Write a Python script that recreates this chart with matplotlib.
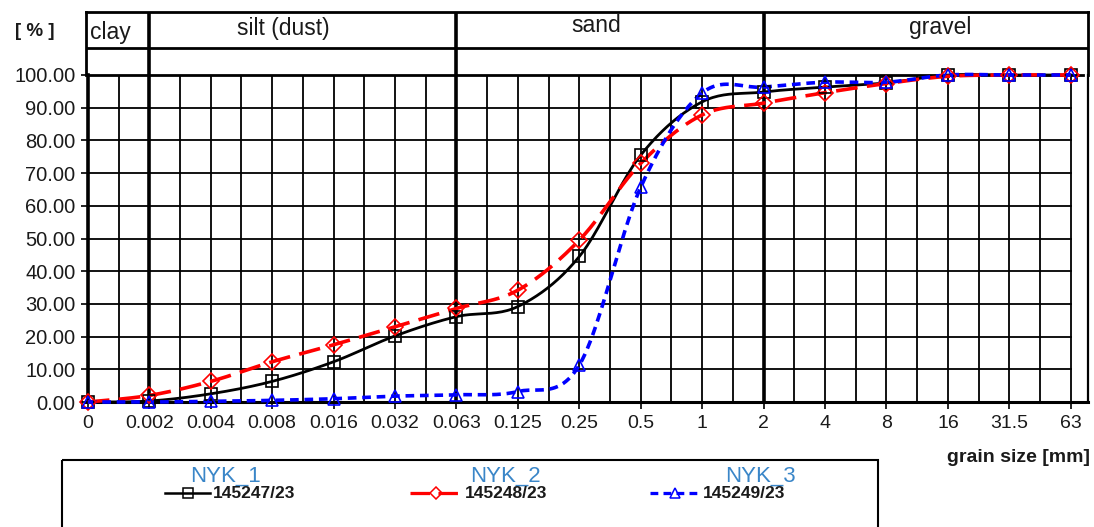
import numpy as np
import matplotlib
matplotlib.use("Agg")
import matplotlib.pyplot as plt
from matplotlib.lines import Line2D
from matplotlib.patches import Rectangle

plt.rcParams['font.family'] = ['Liberation Sans', 'DejaVu Sans']

# grain size classes (categorical x axis)
sizes = ["0", "0.002", "0.004", "0.008", "0.016", "0.032", "0.063", "0.125",
         "0.25", "0.5", "1", "2", "4", "8", "16", "31.5", "63"]

# passing [%] per sample
nyk_1 = [0.0, 0.3, 2.5, 6.3, 12.3, 20.2, 26.1, 29.2, 44.5, 75.5, 91.8, 94.8, 96.3, 97.6, 100.0, 100.0, 100.0]
nyk_2 = [0.0, 2.0, 6.3, 12.3, 17.5, 23.0, 28.6, 34.2, 49.5, 73.0, 87.8, 91.4, 94.6, 97.4, 99.6, 100.0, 100.0]
nyk_3 = [0.0, 0.0, 0.2, 0.5, 1.0, 1.8, 2.2, 3.2, 11.3, 65.7, 94.5, 96.3, 97.8, 97.8, 100.0, 100.0, 100.0]

sample_names = ["NYK_1", "NYK_2", "NYK_3"]
sample_ids = ["145247/23", "145248/23", "145249/23"]

classes = ["clay", "silt (dust)", "sand", "gravel"]
class_bounds = [1, 6, 11]   # index of 0.002, 0.063, 2
y_ticks = [0, 10, 20, 30, 40, 50, 60, 70, 80, 90, 100]


def smooth(x, y, n=24):
    # excel-like smoothed line (catmull-rom through the points)
    x = np.asarray(x, float)
    y = np.asarray(y, float)
    px = np.concatenate([[x[0]], x, [x[-1]]])
    py = np.concatenate([[y[0]], y, [y[-1]]])
    out_x, out_y = [], []
    t = np.linspace(0, 1, n)
    for i in range(1, len(px) - 2):
        p0x, p0y = px[i], py[i]
        p3x, p3y = px[i + 1], py[i + 1]
        p1x = p0x + (px[i + 1] - px[i - 1]) / 6
        p1y = p0y + (py[i + 1] - py[i - 1]) / 6
        p2x = p3x - (px[i + 2] - px[i]) / 6
        p2y = p3y - (py[i + 2] - py[i]) / 6
        bx = (1 - t) ** 3 * p0x + 3 * (1 - t) ** 2 * t * p1x + 3 * (1 - t) * t ** 2 * p2x + t ** 3 * p3x
        by = (1 - t) ** 3 * p0y + 3 * (1 - t) ** 2 * t * p1y + 3 * (1 - t) * t ** 2 * p2y + t ** 3 * p3y
        out_x.extend(bx)
        out_y.extend(by)
    return np.array(out_x), np.array(out_y)


W, H = 1094, 527
fig = plt.figure(figsize=(W / 100, H / 100), dpi=100)

x_left, x_right = -0.03, 16.28
ax = fig.add_axes([86 / W, 1 - 402 / H, (1088 - 86) / W, (402 - 75) / H])
ax.set_xlim(x_left, x_right)
ax.set_ylim(0, 100)

xs = np.arange(len(sizes))

# grid
for v in y_ticks[1:-1]:
    ax.plot([0, 16], [v, v], color="black", lw=1.3, zorder=1)
ax.plot([0, 16.2], [100, 100], color="black", lw=2, zorder=1, clip_on=False)
for gx in np.arange(0.5, 16.01, 0.5):
    lw = 2.6 if gx in class_bounds else 1.3
    ax.plot([gx, gx], [0, 100], color="black", lw=lw, zorder=1)

ax.spines["top"].set_visible(False)
ax.spines["left"].set_linewidth(2.6)
ax.spines["bottom"].set_linewidth(2.2)
ax.spines["right"].set_linewidth(1.6)
ax.spines["left"].set_position(("data", 0))

ax.set_xticks(xs)
ax.set_xticklabels(sizes, fontsize=14, color="#1a1a1a")
ax.set_yticks(y_ticks)
ax.set_yticklabels([f"{v:.2f}" for v in y_ticks], fontsize=14.5, color="#1a1a1a")
ax.tick_params(axis="both", direction="out", length=5, width=1.2, pad=4)

# curves
styles = [
    dict(color="black", lw=2.0, ls="-", marker="s", ms=9),
    dict(color="#ff0000", lw=2.6, ls=(0, (6, 2.6)), marker="D", ms=8),
    dict(color="#0000ff", lw=2.6, ls=(0, (2.4, 1.6)), marker="^", ms=9),
]
for data, st in zip([nyk_1, nyk_2, nyk_3], styles):
    sx, sy = smooth(xs, data)
    ax.plot(sx, sy, color=st["color"], lw=st["lw"], ls=st["ls"], zorder=3,
            clip_on=False)
    ax.plot(xs, data, ls="none", marker=st["marker"], ms=st["ms"],
            mfc="none", mec=st["color"], mew=1.2, zorder=4, clip_on=False)

# header with soil classes
hx = fig.add_axes([86 / W, 1 - 75 / H, (1088 - 86) / W, (75 - 12) / H])
hx.set_xlim(x_left, x_right)
hx.set_ylim(0, 1)
hx.set_xticks([])
hx.set_yticks([])
hx.patch.set_alpha(0)
for side in ["top", "left", "right"]:
    hx.spines[side].set_linewidth(2)
hx.spines["bottom"].set_visible(False)
hx.axhline(27 / 63, color="black", lw=2)
for b in class_bounds:
    hx.axvline(b, color="black", lw=2.6)
hx.text(0.04, 0.68, classes[0], fontsize=16.5, ha="left", va="center", color="#1a1a1a")
hx.text(3.18, 0.74, classes[1], fontsize=16.5, ha="center", va="center", color="#1a1a1a")
hx.text(8.27, 0.78, classes[2], fontsize=16.5, ha="center", va="center", color="#1a1a1a")
hx.text(13.87, 0.76, classes[3], fontsize=16.5, ha="center", va="center", color="#1a1a1a")

fig.text(35 / W, 1 - 31 / H, "[ % ]", fontsize=13.5, fontweight="bold",
         ha="center", va="center", color="#1a1a1a")
fig.text(1090 / W, 1 - 458 / H, "grain size [mm]", fontsize=14, fontweight="bold",
         ha="right", va="center", color="#1a1a1a")

# legend (drawn by hand, box runs off the bottom edge)
lg = fig.add_axes([0, 0, 1, 1])
lg.set_xlim(0, W)
lg.set_ylim(H, 0)
lg.axis("off")
lg.add_patch(Rectangle((62, 460), 878 - 62, 100, fill=False, lw=1.5,
                       edgecolor="black"))
name_x = [226, 505, 760]
handle_x = [(165, 210), (410, 462), (650, 700)]
for i in range(3):
    st = styles[i]
    hx0, hx1 = handle_x[i]
    lg.text(name_x[i], 476, sample_names[i], fontsize=16, color="#3a86c8",
            ha="center", va="center")
    lg.add_line(Line2D([hx0, hx1], [493, 493], color=st["color"], lw=st["lw"] * 0.9,
                       ls=st["ls"]))
    lg.add_line(Line2D([(hx0 + hx1) / 2], [493], ls="none", marker=st["marker"],
                       ms=st["ms"] * 0.8, mfc="none", mec=st["color"], mew=1.1))
    lg.text(hx1 + 3, 493, sample_ids[i], fontsize=12.5, fontweight="bold",
            color="#1a1a1a", ha="left", va="center")

fig.savefig("out.png", dpi=100)
